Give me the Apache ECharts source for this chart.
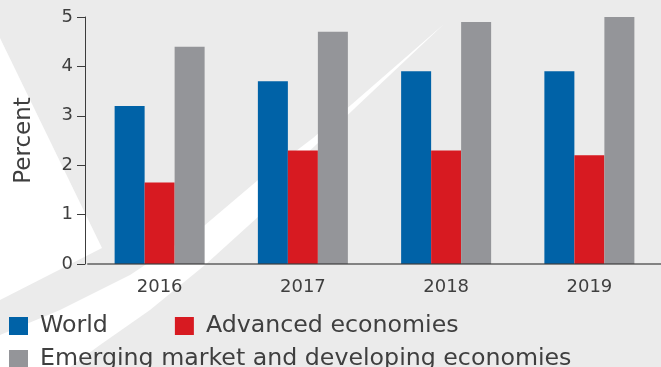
<!DOCTYPE html>
<html>
<head>
<meta charset="utf-8">
<script src="https://cdn.jsdelivr.net/npm/echarts@6/dist/echarts.min.js"></script>
<style>
  html, body { margin: 0; padding: 0; background: #ebebeb; }
  #chart { width: 661px; height: 367px; }
</style>
</head>
<body>
<div id="chart"></div>
<script>
// Real GDP growth, percent
const years = ['2016', '2017', '2018', '2019'];
const world = [3.2, 3.7, 3.9, 3.9];
const advanced = [1.65, 2.3, 2.3, 2.2];
const emerging = [4.4, 4.7, 4.9, 5.0];
const seriesNames = ['World', 'Advanced economies', 'Emerging market and developing economies'];
const yTicks = { min: 0, max: 5, interval: 1 };

const FONT = 'DejaVu Sans';
const TEXT = '#3f3f3f';
const colors = ['#0062a7', '#d71a21', '#949599'];

const chart = echarts.init(document.getElementById('chart'), null, { renderer: 'canvas' });

// decorative white swoosh shapes behind the plot
const decor = [
  { type: 'polygon', z: -10, silent: true,
    shape: { points: [[0, 38], [102, 248], [0, 300]] },
    style: { fill: '#ffffff' } },
  { type: 'polygon', z: -10, silent: true,
    shape: { points: [[444, 24], [313, 138], [258, 180], [205, 225], [130, 275], [60, 310], [0, 335],
                      [0, 367], [70, 367], [100, 345], [150, 310], [205, 265], [258, 217], [300, 160]] },
    style: { fill: '#ffffff' } }
];

function barSeries(name, data, color) {
  return {
    name: name, type: 'bar', data: data, barWidth: 30, barGap: '0%',
    itemStyle: { color: color }, emphasis: { disabled: true }
  };
}

const legendText = { fontFamily: FONT, fontSize: 23.7, color: TEXT, padding: [0, 0, 0, 7], lineHeight: 24 };

chart.setOption({
  backgroundColor: '#ebebeb',
  animation: false,
  textStyle: { fontFamily: FONT },
  graphic: decor,
  grid: { left: 88, right: 0, top: 17, bottom: 103, containLabel: false },
  legend: [
    {
      data: seriesNames.slice(0, 2), left: 9, top: 314, padding: 0, orient: 'horizontal',
      icon: 'rect', itemWidth: 19, itemHeight: 18, itemGap: 67,
      textStyle: legendText, selectedMode: false
    },
    {
      data: seriesNames.slice(2), left: 9, top: 347, padding: 0, orient: 'horizontal',
      icon: 'rect', itemWidth: 19, itemHeight: 18,
      textStyle: legendText, selectedMode: false
    }
  ],
  xAxis: {
    type: 'category', data: years, z: 3,
    axisLine: { lineStyle: { color: 'rgba(60,60,60,0.6)', width: 2 } },
    axisTick: { show: false },
    axisLabel: { fontFamily: FONT, fontSize: 18, color: TEXT, margin: 14 }
  },
  yAxis: {
    type: 'value', min: yTicks.min, max: yTicks.max, interval: yTicks.interval, offset: 3,
    name: 'Percent', nameLocation: 'middle', nameGap: 49, nameRotate: 90,
    nameTextStyle: { fontFamily: FONT, fontSize: 23, color: TEXT },
    axisLine: { show: true, lineStyle: { color: '#3c3c3c', width: 1 } },
    axisTick: { show: true, length: 8, lineStyle: { color: '#3c3c3c', width: 1 } },
    axisLabel: { fontFamily: FONT, fontSize: 18, color: TEXT, margin: 12 },
    splitLine: { show: false }
  },
  series: [
    barSeries(seriesNames[0], world, colors[0]),
    barSeries(seriesNames[1], advanced, colors[1]),
    barSeries(seriesNames[2], emerging, colors[2])
  ]
});
</script>
</body>
</html>
